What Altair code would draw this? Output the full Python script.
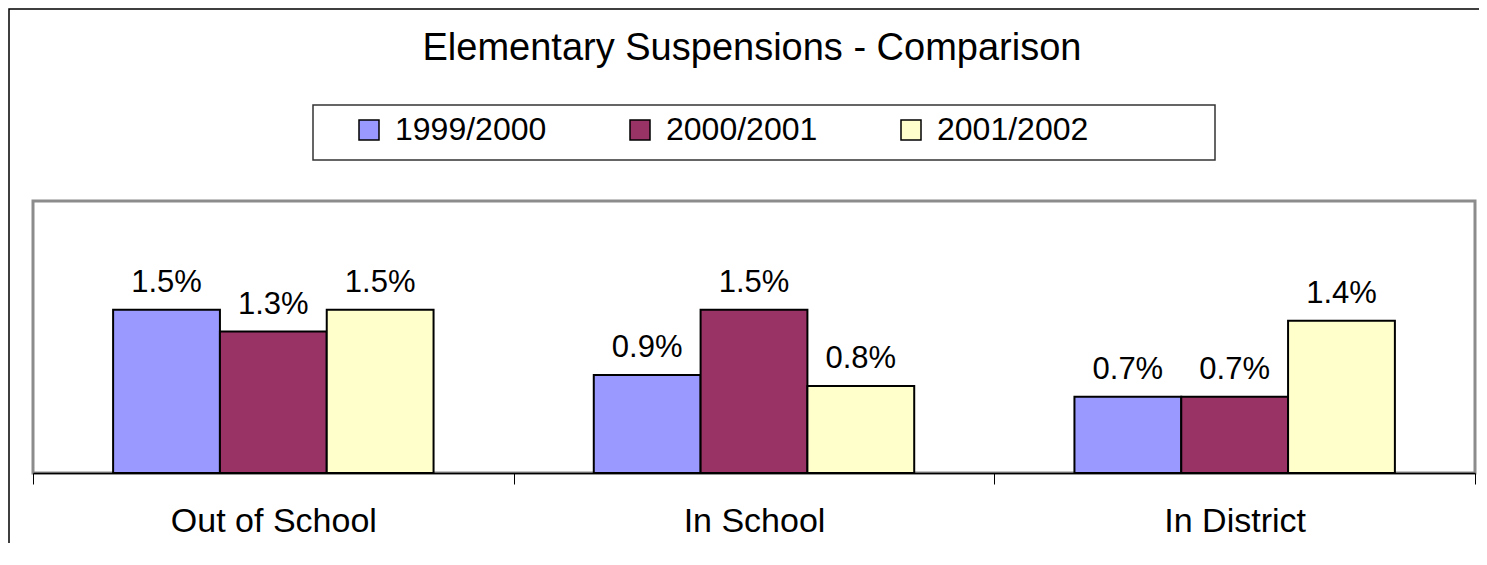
import altair as alt
import pandas as pd

categories = ["Out of School", "In School", "In District"]
years = ["1999/2000", "2000/2001", "2001/2002"]
values_1999 = [1.5, 0.9, 0.7]
values_2000 = [1.3, 1.5, 0.7]
values_2001 = [1.5, 0.8, 1.4]
colors = ["#9999FF", "#993366", "#FFFFCC"]
title_text = "Elementary Suspensions - Comparison"

rows = []
for yr, vals in zip(years, [values_1999, values_2000, values_2001]):
    for c, v in zip(categories, vals):
        rows.append({"category": c, "year": yr, "value": v / 100.0})
df = pd.DataFrame(rows)
one = pd.DataFrame({"k": [0]})

W, H = 1442, 272
FONT = "Liberation Sans"

x_enc = alt.X(
    "category:N", sort=categories,
    scale=alt.Scale(paddingInner=0, paddingOuter=0),
    axis=alt.Axis(title=None, labelAngle=0, tickBand="extent",
                  domainColor="black", domainWidth=1.5,
                  tickColor="black", tickSize=11, tickWidth=1,
                  labelFont=FONT, labelFontSize=34, labelColor="black",
                  labelPadding=20, labelLimit=0, grid=False),
)
xo = alt.XOffset("year:N", sort=years,
                 scale=alt.Scale(paddingInner=0, paddingOuter=0.75))
y_enc = alt.Y("value:Q", scale=alt.Scale(domain=[0, 0.025]), axis=None)
color = alt.Color(
    "year:N", sort=years,
    scale=alt.Scale(domain=years, range=colors),
    legend=alt.Legend(orient="none", legendX=320, legendY=-87,
                      direction="horizontal", title=None,
                      symbolType="square", symbolSize=400,
                      symbolStrokeColor="black", symbolStrokeWidth=1.5,
                      labelFont=FONT, labelFontSize=32, labelColor="black",
                      labelOffset=10, columnPadding=77, padding=0,
                      labelLimit=0),
)

frame = alt.Chart(one).mark_rect(fill="transparent", stroke="black", strokeWidth=1.5).encode(
    x=alt.value(-24), x2=alt.value(W + 20), y=alt.value(-192), y2=alt.value(H + 120)
)
legend_box = alt.Chart(one).mark_rect(fill="white", stroke="#333333", strokeWidth=1.5).encode(
    x=alt.value(280), x2=alt.value(1182), y=alt.value(-96), y2=alt.value(-41)
)
title = alt.Chart(one).mark_text(font=FONT, fontSize=38, color="black",
                                 align="center", baseline="alphabetic").encode(
    x=alt.value(719), y=alt.value(-141), text=alt.value(title_text)
)
bars = alt.Chart(df).mark_bar(stroke="black", strokeWidth=2).encode(
    x=x_enc, xOffset=xo, y=y_enc, color=color
)
labels = alt.Chart(df).mark_text(font=FONT, fontSize=31, color="black",
                                 baseline="alphabetic", dy=-18).encode(
    x=alt.X("category:N", sort=categories), xOffset=xo, y=y_enc,
    text=alt.Text("value:Q", format=".1%")
)

chart = alt.layer(frame, legend_box, title, bars, labels).properties(
    width=W, height=H,
    background="white",
    autosize=alt.AutoSizeParams(type="none"),
    padding={"left": 25, "top": 193, "right": 4, "bottom": 70},
).configure_view(stroke="#8c8c8c", strokeWidth=3)

chart.save("out.html", embed_options={"renderer": "svg", "actions": False})
